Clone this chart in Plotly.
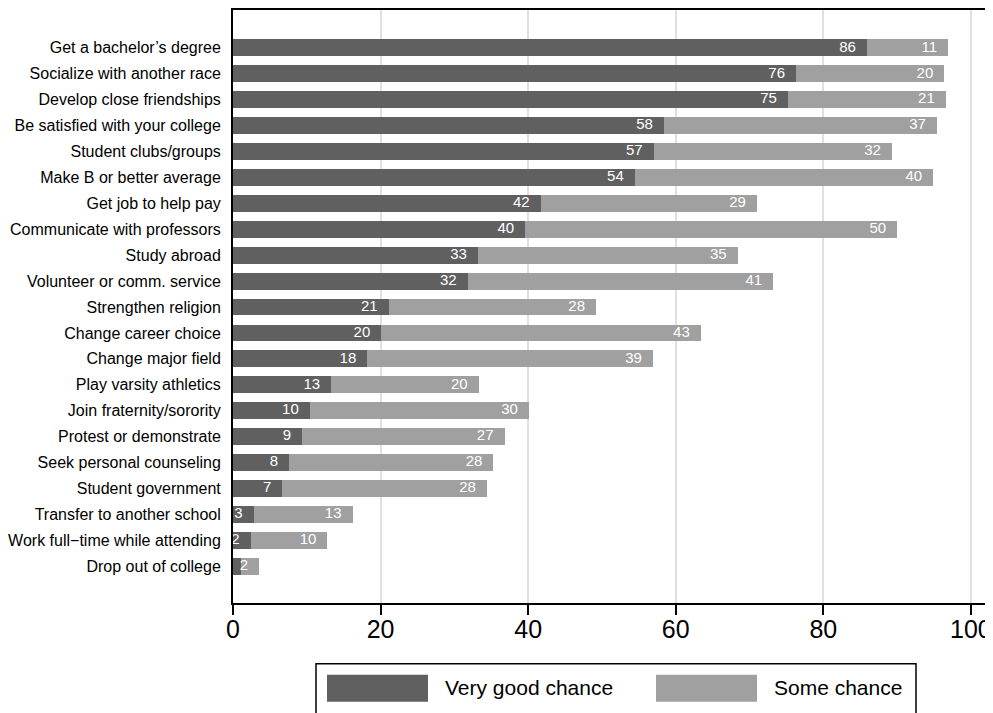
import plotly.graph_objects as go

categories = [
    "Get a bachelor’s degree", "Socialize with another race", "Develop close friendships",
    "Be satisfied with your college", "Student clubs/groups", "Make B or better average",
    "Get job to help pay", "Communicate with professors", "Study abroad",
    "Volunteer or comm. service", "Strengthen religion", "Change career choice",
    "Change major field", "Play varsity athletics", "Join fraternity/sorority",
    "Protest or demonstrate", "Seek personal counseling", "Student government",
    "Transfer to another school", "Work full\u2212time while attending", "Drop out of college",
]
very_good = [85.9, 76.3, 75.2, 58.4, 57.0, 54.45, 41.7, 39.6, 33.2, 31.8, 21.1, 20.1,
             18.2, 13.3, 10.4, 9.35, 7.6, 6.7, 2.8, 2.4, 1.1]
some = [11.0, 20.1, 21.4, 37.0, 32.3, 40.45, 29.3, 50.4, 35.2, 41.4, 28.1, 43.3,
        38.7, 20.0, 29.7, 27.45, 27.7, 27.7, 13.4, 10.4, 2.45]
series_names = ["Very good chance", "Some chance"]
x_ticks = [0, 20, 40, 60, 80, 100]

DARK = "#606060"
LIGHT = "#a0a0a0"
FONT = "Liberation Sans, Arial, Helvetica, sans-serif"

OFF = 8  # page body margin
W, H = 985, 705
L, R, T, B = 225, 0, 0, 110
PW, PH = W - L - R, H - T - B

ypos = list(range(len(categories)))
totals = [a + b for a, b in zip(very_good, some)]

fig = go.Figure()
fig.add_trace(go.Bar(y=ypos, x=very_good, orientation="h", name=series_names[0],
                     marker=dict(color=DARK, line=dict(width=0)), width=0.65,
                     hoverinfo="skip", showlegend=False))
fig.add_trace(go.Bar(y=ypos, x=some, orientation="h", name=series_names[1],
                     marker=dict(color=LIGHT, line=dict(width=0)), width=0.65,
                     hoverinfo="skip", showlegend=False))

# value labels, placed inside at the end of each segment
fig.add_trace(go.Scatter(x=very_good, y=ypos, mode="markers+text",
                         text=[str(round(v)) for v in very_good],
                         textposition="middle left",
                         textfont=dict(color="white", size=15, family=FONT),
                         marker=dict(size=16, color="rgba(0,0,0,0)"),
                         hoverinfo="skip", showlegend=False, cliponaxis=True))
fig.add_trace(go.Scatter(x=totals, y=ypos, mode="markers+text",
                         text=[str(round(v)) for v in some],
                         textposition="middle left",
                         textfont=dict(color="white", size=15, family=FONT),
                         marker=dict(size=16, color="rgba(0,0,0,0)"),
                         hoverinfo="skip", showlegend=False, cliponaxis=True))

def px_x(p):
    return (p - OFF - L) / PW

def px_y(p):
    return (H - B - (p - OFF)) / PH

shapes = [
    dict(type="rect", xref="paper", yref="paper", x0=px_x(316), x1=px_x(916),
         y0=px_y(740), y1=px_y(664), line=dict(color="black", width=1.5), fillcolor="white", layer="above"),
    dict(type="rect", xref="paper", yref="paper", x0=px_x(327), x1=px_x(428),
         y0=px_y(702), y1=px_y(675), line=dict(width=0), fillcolor=DARK, layer="above"),
    dict(type="rect", xref="paper", yref="paper", x0=px_x(656), x1=px_x(757),
         y0=px_y(702), y1=px_y(675), line=dict(width=0), fillcolor=LIGHT, layer="above"),
]
annotations = [
    dict(xref="paper", yref="paper", x=px_x(443), y=px_y(688), text=series_names[0],
         showarrow=False, xanchor="left", yanchor="middle",
         font=dict(size=21, color="black", family=FONT)),
    dict(xref="paper", yref="paper", x=px_x(772), y=px_y(688), text=series_names[1],
         showarrow=False, xanchor="left", yanchor="middle",
         font=dict(size=21, color="black", family=FONT)),
]

fig.update_layout(
    width=W, height=H,
    margin=dict(l=L, r=R, t=T, b=B, pad=0),
    barmode="stack", bargap=0.35,
    plot_bgcolor="white", paper_bgcolor="white",
    font=dict(family=FONT, color="black"),
    shapes=shapes, annotations=annotations,
    xaxis=dict(range=[0, 103], tickvals=x_ticks, ticktext=[str(t) for t in x_ticks],
               showgrid=True, gridcolor="#e0e0e0", gridwidth=2, zeroline=False,
               showline=True, linecolor="black", linewidth=2, mirror=True,
               ticks="outside", ticklen=10, tickwidth=2, tickcolor="black",
               ticklabelstandoff=-7,
               tickfont=dict(size=25, family=FONT, color="black")),
    yaxis=dict(range=[21.42, -1.46], tickvals=ypos, ticktext=categories,
               showgrid=False, zeroline=False, showline=True, linecolor="black",
               linewidth=2, ticks="", ticklabelstandoff=7,
               tickfont=dict(size=16, family=FONT, color="black")),
)

fig.write_html("out.html")
